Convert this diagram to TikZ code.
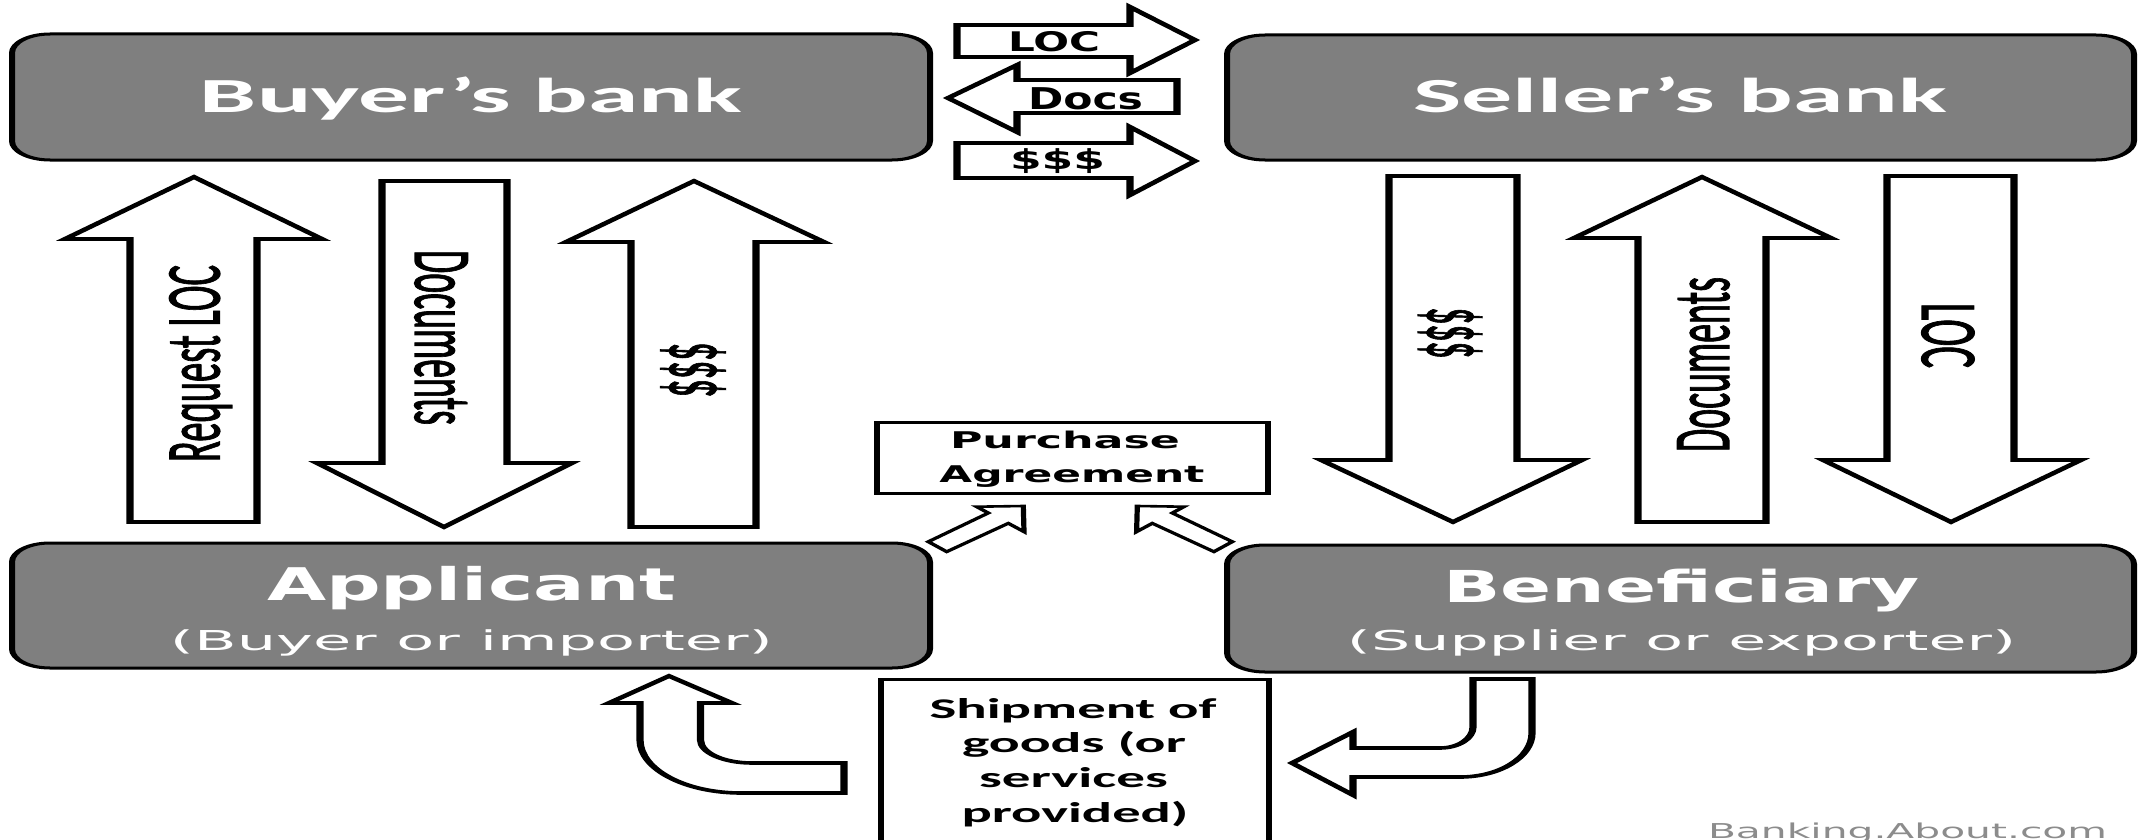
\documentclass[tikz,border=0pt]{standalone}
\usepackage{fontspec}
\usepackage{graphicx}
\newfontfamily\calfont{Carlito}
\newfontfamily\calheavy[FakeBold=1.6]{Carlito}
\newfontfamily\verfont{DejaVu Sans}
\definecolor{boxgray}{RGB}{127,127,127}
\definecolor{markgray}{RGB}{140,140,140}
\newcommand{\fitw}[2]{\resizebox{#1}{\height}{#2}}
\newcommand{\fitwh}[3]{\resizebox*{#1}{#2}{#3}}
\tikzset{
  txt/.style={inner sep=0pt, outer sep=0pt},
  bankbox/.style={draw=black, fill=boxgray, line width=3pt, rounded corners=19pt, inner sep=0pt},
  plainbox/.style={draw=black, fill=white, line width=3pt, inner sep=0pt},
  blockarrow/.style={draw=black, fill=white, line width=3.6pt, line join=miter},
  smallarrow/.style={draw=black, fill=white, line width=2.6pt, line join=miter},
}
\begin{document}
\begin{tikzpicture}[x=1pt, y=-1pt]
\fill[white] (0,0) rectangle (2141,840);
\useasboundingbox (0,0) rectangle (2141,840);

\begin{scope}[x=0.5pt, transform canvas={xscale=2}]
  % boxes
  \node[bankbox, minimum width=459pt, minimum height=126pt] (buyerbox) at (471,97) {};
  \node[bankbox, minimum width=453.5pt, minimum height=125pt] (sellerbox) at (1680.5,97.5) {};
  \node[bankbox, minimum width=459pt, minimum height=125pt] (appbox) at (471,605.5) {};
  \node[bankbox, minimum width=453.5pt, minimum height=127pt] (benbox) at (1680.5,608.5) {};
  \node[plainbox, minimum width=195.5pt, minimum height=71pt] (purbox) at (1072.5,457.5) {};
  \draw[line width=3pt] (881,850) -- (881,679) -- (1269,679) -- (1269,850);

  % top horizontal arrows
  \draw[blockarrow] (957,25) -- (1130,25) -- (1130,7) -- (1195,40) -- (1130,73) -- (1130,57) -- (957,57) -- cycle;
  \draw[blockarrow] (1177,80) -- (1017,80) -- (1017,65) -- (948,98) -- (1017,132) -- (1017,113) -- (1177,113) -- cycle;
  \draw[blockarrow] (957,143) -- (1130,143) -- (1130,127) -- (1195,161) -- (1130,195) -- (1130,178) -- (957,178) -- cycle;

  % left vertical arrows
  \draw[blockarrow] (130,522) -- (130,239) -- (65,239) -- (194,177) -- (322,239) -- (257,239) -- (257,522) -- cycle;
  \draw[blockarrow] (382,181) -- (507,181) -- (507,463) -- (572,463) -- (444,527) -- (317,463) -- (382,463) -- cycle;
  \draw[blockarrow] (631,527) -- (631,242) -- (566,242) -- (694,181) -- (824,242) -- (756,242) -- (756,527) -- cycle;

  % right vertical arrows
  \draw[blockarrow] (1389,176) -- (1517,176) -- (1517,460) -- (1582,460) -- (1453,522) -- (1321,460) -- (1389,460) -- cycle;
  \draw[blockarrow] (1638,522) -- (1638,238) -- (1574,238) -- (1702,177) -- (1831,238) -- (1766,238) -- (1766,522) -- cycle;
  \draw[blockarrow] (1887,176) -- (2014,176) -- (2014,460) -- (2081,460) -- (1951,522) -- (1823,460) -- (1887,460) -- cycle;

  % small diagonal arrows to the purchase agreement
  \draw[smallarrow] (928.3,541.7) -- (988.3,513) -- (976.7,506.7) -- (1023.3,506) -- (1024,531.7) -- (1008.3,523.3) -- (946.7,551.7) -- cycle;
  \draw[smallarrow] (1232.3,541.7) -- (1172.3,513) -- (1183.9,506.7) -- (1137.3,506) -- (1136.6,531.7) -- (1152.3,523.3) -- (1213.9,551.7) -- cycle;

  % bent arrows (shipment)
  \draw[blockarrow] (844,763) -- (752,763) .. controls (723.6,763) and (700.5,752.7) .. (700.5,740) -- (700.5,703) -- (732,703) -- (669,676) -- (609,703) -- (640,703) -- (640,740) .. controls (640,769.3) and (685.2,793) .. (741,793) -- (844,793) -- cycle;
  \draw[blockarrow] (1473,679) -- (1532,679) -- (1532,733) .. controls (1532,757.3) and (1499.7,777) .. (1460,777) -- (1353,777) -- (1353,795) -- (1292,763) -- (1353,732) -- (1353,748) -- (1440,748) .. controls (1458.2,748) and (1473,738.6) .. (1473,727) -- cycle;
\end{scope}

% box texts
\node[txt, anchor=base, text=white] (tbuyer) at (471,113) {\fitw{542pt}{\calfont\bfseries\fontsize{49}{49}\selectfont Buyer’s bank}};
\node[txt, anchor=base, text=white] (tseller) at (1680,113) {\fitw{534pt}{\calfont\bfseries\fontsize{49}{49}\selectfont Seller’s bank}};
\node[txt, anchor=base, text=white] (tapp) at (471.5,600) {\fitw{409pt}{\verfont\bfseries\fontsize{45}{45}\selectfont Applicant}};
\node[txt, anchor=base, text=white] (tappsub) at (471.5,650) {\fitw{603pt}{\verfont\fontsize{27.4}{27.4}\selectfont (Buyer or importer)}};
\node[txt, anchor=base, text=white] (tben) at (1681.5,602) {\fitw{477pt}{\verfont\bfseries\fontsize{44}{44}\selectfont Beneficiary}};
\node[txt, anchor=base, text=white] (tbensub) at (1681.5,650) {\fitw{669pt}{\verfont\fontsize{27.4}{27.4}\selectfont (Supplier or exporter)}};

% purchase agreement
\node[txt, anchor=base] (tpur1) at (1065,448) {\fitw{230pt}{\verfont\bfseries\fontsize{23}{23}\selectfont Purchase}};
\node[txt, anchor=base] (tpur2) at (1072,482) {\fitw{265pt}{\verfont\bfseries\fontsize{23}{23}\selectfont Agreement}};

% top arrows texts
\node[txt, anchor=base] (tloc) at (1054,52) {\fitw{92pt}{\verfont\bfseries\fontsize{27}{27}\selectfont LOC}};
\node[txt, anchor=base] (tdocs) at (1085.5,110) {\fitw{115pt}{\verfont\bfseries\fontsize{30}{30}\selectfont Docs}};
\node[txt, anchor=base] (tmoney) at (1057.5,169) {\fitw{95pt}{\verfont\bfseries\fontsize{27.5}{27.5}\selectfont \$\$\$}};

% shipment text
\node[txt, anchor=base] (tship1) at (1073,718) {\fitw{287pt}{\calfont\bfseries\fontsize{28.5}{28.5}\selectfont Shipment of}};
\node[txt, anchor=base] (tship2) at (1074,752) {\fitw{224pt}{\calfont\bfseries\fontsize{28.5}{28.5}\selectfont goods (or}};
\node[txt, anchor=base] (tship3) at (1073.5,787) {\fitw{189pt}{\calfont\bfseries\fontsize{28.5}{28.5}\selectfont services}};
\node[txt, anchor=base] (tship4) at (1075,822) {\fitw{227pt}{\calfont\bfseries\fontsize{28.5}{28.5}\selectfont provided)}};

% vertical arrow texts
\node[txt, anchor=base, rotate=90] (treq) at (219.5,363.5) {\fitw{197pt}{\calheavy\fontsize{77.5}{77.5}\selectfont Request LOC}};
\node[txt, anchor=base, rotate=-90] (tdocl) at (415,337.5) {\fitw{175pt}{\calheavy\fontsize{82}{82}\selectfont Documents}};
\node[txt, anchor=center, rotate=90] (tmonl) at (693,370) {\fitwh{55pt}{65pt}{\calheavy\fontsize{60}{60}\selectfont \$\$\$}};
\node[txt, anchor=center, rotate=-90] (tmonr) at (1450,333) {\fitwh{51pt}{64pt}{\calheavy\fontsize{60}{60}\selectfont \$\$\$}};
\node[txt, anchor=base, rotate=90] (tdocr) at (1729,364.5) {\fitw{175pt}{\calheavy\fontsize{80.7}{80.7}\selectfont Documents}};
\node[txt, anchor=base, rotate=-90] (tlocr) at (1922,335.5) {\fitw{65pt}{\calheavy\fontsize{80.7}{80.7}\selectfont LOC}};

% watermark
\node[txt, anchor=base, text=markgray] (tmark) at (1907.5,838) {\fitw{399pt}{\verfont\fontsize{20.5}{20.5}\selectfont Banking.About.com}};
\end{tikzpicture}
\end{document}
